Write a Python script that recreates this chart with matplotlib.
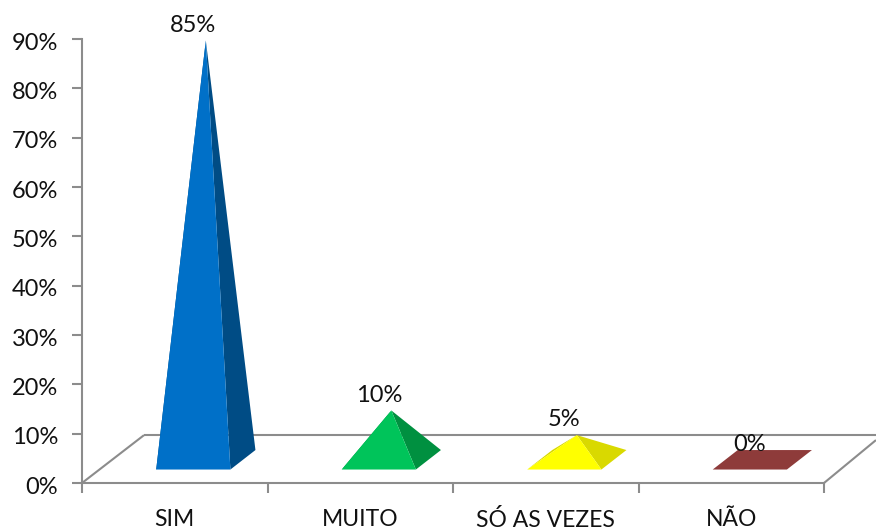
import matplotlib
matplotlib.use("Agg")
import matplotlib.pyplot as plt
from matplotlib.patches import Polygon
from matplotlib.transforms import ScaledTranslation

categories = ["SIM", "MUITO", "SÓ AS VEZES", "NÃO"]
values = [85, 10, 5, 0]
yticks = [0, 10, 20, 30, 40, 50, 60, 70, 80, 90]

front_colors = ["#0070c8", "#00c45a", "#ffff00", "#8e3b3a"]
side_colors = ["#004c85", "#009040", "#d9d900", "#8e3b3a"]

GREY = "#8c8c8c"
W, H = 876, 532

plt.rcParams["font.family"] = ["Lato", "DejaVu Sans"]

fig = plt.figure(figsize=(W / 100, H / 100), dpi=100, facecolor="white")
ax = fig.add_axes([82 / W, (H - 483) / H, (824 - 82) / W, (483 - 39) / H])
ax.set_xlim(-0.5, 3.5)
ax.set_ylim(0, 90)
ax.patch.set_alpha(0)

# floor depth and bar footprint, in data units
floor_dx, floor_dy = 62 / 185.5, 9.7
half_w = 0.2
base_shift = 0.1
depth_dx, depth_dy = 0.135, 3.95
base_y = 2.73
x_right = 3.5 + 52 / 185.5

# floor outline
line_kw = dict(color=GREY, lw=1.5, clip_on=False, zorder=1, solid_capstyle="butt")
ax.plot([-0.5, -0.5 + floor_dx], [0, floor_dy], **line_kw)
ax.plot([-0.5 + floor_dx, x_right], [floor_dy, floor_dy], **line_kw)
ax.plot([3.5, x_right], [0, 8.7], **line_kw)

for i, (v, fc, sc) in enumerate(zip(values, front_colors, side_colors)):
    x0 = i + base_shift - half_w
    x1 = i + base_shift + half_w
    fl = (x0, base_y)
    fr = (x1, base_y)
    bl = (x0 + depth_dx, base_y + depth_dy)
    br = (x1 + depth_dx, base_y + depth_dy)
    cx = (x0 + x1 + depth_dx) / 2
    cy = base_y + depth_dy / 2
    apex = (cx, cy + v)

    if v == 0:
        ax.add_patch(Polygon([fl, fr, br, bl], fc=fc, ec="none", zorder=3, clip_on=False))
    else:
        ax.add_patch(Polygon([fl, bl, apex], fc=sc, ec="none", zorder=2, clip_on=False))
        ax.add_patch(Polygon([fr, br, apex], fc=sc, ec="none", zorder=3, clip_on=False))
        ax.add_patch(Polygon([fl, fr, apex], fc=fc, ec="none", zorder=4, clip_on=False))

    ax.annotate(f"{v}%", xy=(i + base_shift, cy + v), xytext=(0, 11),
                textcoords="offset points", ha="center", va="center",
                fontsize=17, color="#111111", zorder=5, annotation_clip=False)

for side in ["top", "right"]:
    ax.spines[side].set_visible(False)
for side in ["left", "bottom"]:
    ax.spines[side].set_color(GREY)
    ax.spines[side].set_linewidth(1.5)

ax.set_yticks(yticks)
ax.set_yticklabels([f"{t}%" for t in yticks])
ax.tick_params(axis="y", length=7.2, width=1.5, color=GREY, pad=10,
               labelsize=17, labelcolor="#111111")

# nudge the percent labels down a little so they sit level with the ticks
nudge = ScaledTranslation(0, -1.5 / 72, fig.dpi_scale_trans)
for lab in ax.get_yticklabels():
    lab.set_transform(lab.get_transform() + nudge)

ax.set_xticks([-0.5, 0.5, 1.5, 2.5, 3.5])
ax.set_xticklabels([])
ax.set_xticks(range(len(categories)), minor=True)
ax.set_xticklabels(categories, minor=True)
ax.tick_params(axis="x", which="major", length=7.2, width=1.5, color=GREY)
ax.tick_params(axis="x", which="minor", length=0, pad=18.5,
               labelsize=16.5, labelcolor="#111111")

fig.savefig("out.png", dpi=100)
